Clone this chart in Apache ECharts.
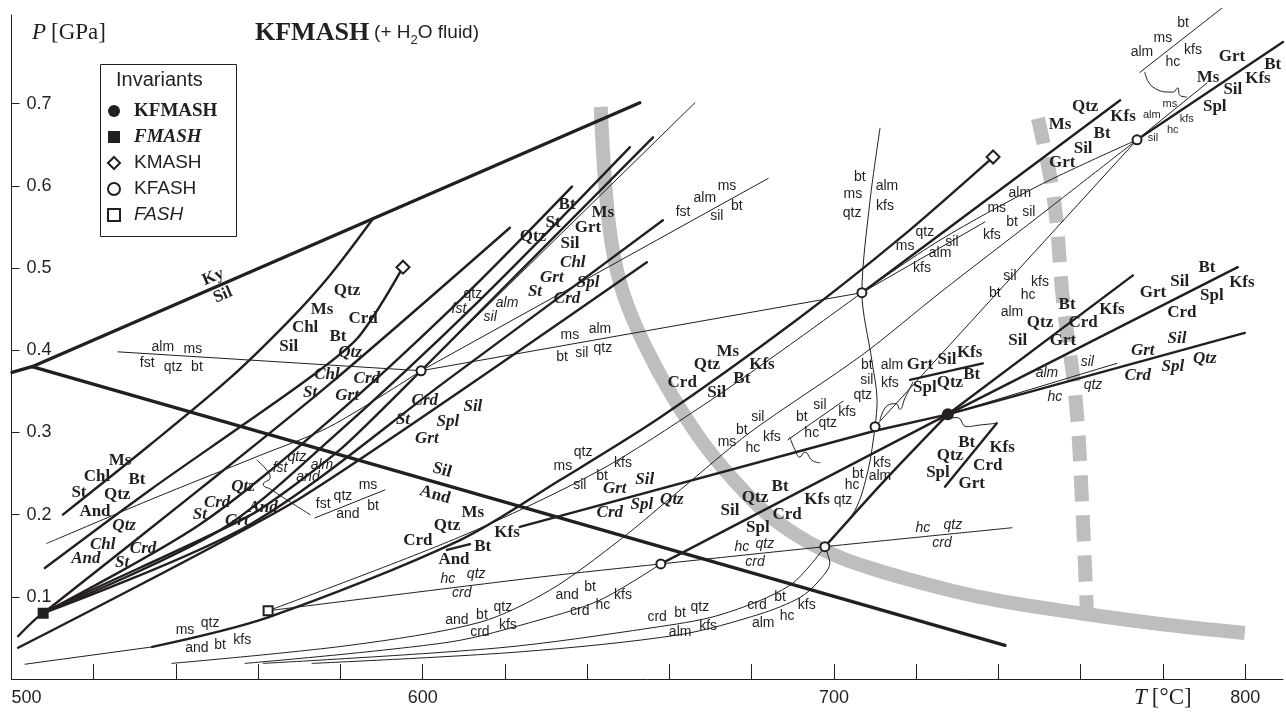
<!DOCTYPE html>
<html>
<head>
<meta charset="utf-8">
<script src="https://cdn.jsdelivr.net/npm/echarts@6.0.0/dist/echarts.min.js"></script>
<style>
html,body{margin:0;padding:0;background:#fff}
#chart{width:1286px;height:715px}
</style>
</head>
<body>
<div id="chart"></div>
<script>
// KFMASH petrogenetic grid: temperature T [°C] against pressure P [GPa]
const INK = '#231f20';
const GREY = '#bcbec0';
const SERIF = '"Liberation Serif", "Times New Roman", serif';
const SANS = '"Liberation Sans", Arial, Helvetica, sans-serif';

// axis ticks and labels
const tTicks = [520, 540, 560, 580, 600, 620, 640, 660, 680, 700, 720, 740, 760, 780, 800];
const tLabels = [500, 600, 700, 800];
const pTicks = [0.1, 0.2, 0.3, 0.4, 0.5, 0.6, 0.7];

// Al2SiO5 polymorph boundaries
const kyAnd = [[500.1, 0.373], [505.0, 0.380]];
const kySil = [[505.0, 0.380], [652.8, 0.701]];
const andSil = [[505.0, 0.380], [741.6, 0.041]];

// heavy reaction curves [T, P]
const msChlSt = [[512.5, 0.200], [533.7, 0.285], [553.1, 0.366], [567.7, 0.437], [577.4, 0.491], [587.9, 0.560]];
const kmashLeft = [[508.1, 0.135], [533.7, 0.230], [558.0, 0.315], [575.0, 0.376], [584.7, 0.418], [595.2, 0.501]];
const fmashA = [[507.7, 0.080], [545.8, 0.231], [577.4, 0.359], [621.2, 0.549]];
const fmashB = [[507.7, 0.080], [545.8, 0.188], [577.4, 0.315], [609.1, 0.461], [636.3, 0.599]];
const fmashC = [[507.7, 0.080], [550.7, 0.181], [577.4, 0.291], [613.9, 0.461], [650.4, 0.647]];
const stQtzBt = [[501.6, 0.052], [507.7, 0.080], [558.0, 0.199], [579.9, 0.279], [599.6, 0.375], [656.0, 0.659]];
const fmashD = [[507.7, 0.080], [558.0, 0.188], [606.6, 0.366], [658.4, 0.558]];
const fmashE = [[501.6, 0.038], [570.2, 0.220], [654.5, 0.507]];
const msQtzCrd = [[534.2, 0.039], [562.4, 0.075], [609.1, 0.169], [633.4, 0.242], [657.7, 0.318], [691.0, 0.437], [716.0, 0.536], [738.7, 0.635]];
const msQtzKfs = [[706.8, 0.470], [769.6, 0.704]];
const grtMsBt = [[773.7, 0.656], [809.2, 0.775]];
const grtSilCrdSpl = [[623.6, 0.185], [710.0, 0.302], [727.7, 0.322]];
const grtSilQtz = [[727.7, 0.322], [799.9, 0.421]];
const grtSilBt = [[727.7, 0.322], [798.2, 0.501]];
const qtzSilBt = [[727.7, 0.322], [772.7, 0.491]];
const grtSilKfsStub = [[718.5, 0.364], [736.2, 0.384]];
const btQtzSplStub = [[727.0, 0.234], [739.6, 0.311]];
const silQtzBt = [[657.9, 0.140], [727.7, 0.322]];
const kfsCrdSpl = [[697.8, 0.161], [712.4, 0.242], [727.7, 0.322]];
const btAndStub = [[605.9, 0.157], [611.5, 0.164]];

// thin reaction curves [T, P]
const msQtzCrdTail = [[503.3, 0.018], [534.2, 0.039]];
const fstQtzBt = [[525.9, 0.398], [599.6, 0.375]];
const msAlmSil = [[599.6, 0.375], [706.8, 0.470]];
const fstAlmMs = [[599.6, 0.375], [684.0, 0.609]];
const fstQtzAlm = [[599.6, 0.375], [666.2, 0.701]];
const fstQtzAnd = [[508.6, 0.165], [533.7, 0.218], [560.4, 0.272], [577.4, 0.307], [599.6, 0.375]];
const fstQtzMs = [[573.8, 0.196], [590.8, 0.230]];
const hcQtzCrd = [[562.4, 0.083], [628.5, 0.124], [657.9, 0.140], [697.8, 0.161], [743.3, 0.184]];
const msQtzSil = [[562.4, 0.083], [609.1, 0.173], [643.1, 0.254], [668.2, 0.333], [686.9, 0.398], [706.8, 0.470]];
const andBtQtz = [[539.0, 0.019], [582.3, 0.041], [613.9, 0.069], [630.9, 0.108], [647.9, 0.169], [662.6, 0.230], [679.6, 0.300], [706.8, 0.394], [725.8, 0.470], [750.1, 0.564], [773.7, 0.656]];
const andBtHc = [[556.8, 0.019], [606.6, 0.045], [628.5, 0.072], [643.1, 0.096], [657.9, 0.140]];
const crdBtQtz = [[561.2, 0.019], [618.8, 0.038], [655.3, 0.062], [672.3, 0.078], [689.3, 0.114], [697.8, 0.161]];
const crdBtHc = [[573.1, 0.019], [623.6, 0.033], [662.6, 0.054], [682.0, 0.079], [691.7, 0.099], [696.1, 0.118], [699.0, 0.141], [697.8, 0.161]];
const btAlmKfs = [[711.2, 0.670], [708.8, 0.583], [706.8, 0.470], [709.2, 0.388], [710.5, 0.339], [710.0, 0.307], [708.3, 0.254], [705.1, 0.205], [697.8, 0.161]];
const almMsSil = [[706.8, 0.470], [725.8, 0.534], [750.1, 0.601], [773.7, 0.656]];
const silBtHc = [[773.7, 0.656], [710.0, 0.307]];
const almMsHc = [[773.7, 0.656], [790.7, 0.725]];
const almMsBt = [[774.4, 0.738], [794.3, 0.816]];
const qtzMsAlm = [[706.8, 0.470], [736.7, 0.556]];
const btSilKfs = [[688.8, 0.291], [702.2, 0.338]];
const silAlmHc = [[727.7, 0.322], [768.8, 0.384]];

// leader curves tying labels to their reactions
const leaderFst = [[559.7, 0.266], [562.1, 0.254], [562.9, 0.245], [561.2, 0.237], [563.3, 0.230], [566.0, 0.221], [572.6, 0.200]];
const leaderHc = [[689.3, 0.294], [690.5, 0.279], [691.7, 0.270], [692.9, 0.276], [694.7, 0.266], [696.6, 0.263]];
const leaderSpl = [[725.8, 0.315], [729.9, 0.318], [732.3, 0.307], [735.5, 0.309], [739.6, 0.311]];
const leaderAlm = [[775.6, 0.738], [777.6, 0.720], [782.4, 0.714], [783.6, 0.719], [784.1, 0.710], [785.8, 0.708]];
const leaderKfs = [[711.2, 0.315], [713.1, 0.333], [715.1, 0.335], [716.0, 0.328], [717.3, 0.342], [719.2, 0.361]];

// broad grey curves
const solidus = [[643.3, 0.696], [644.3, 0.607], [646.0, 0.528], [648.9, 0.467], [654.0, 0.406], [660.6, 0.345], [669.1, 0.281], [678.4, 0.227], [685.7, 0.193], [696.6, 0.159], [708.8, 0.135], [728.2, 0.108], [740.4, 0.095], [759.8, 0.080], [779.3, 0.067], [799.9, 0.056]];
const dashedBand = [[749.6, 0.682], [753.5, 0.583], [755.7, 0.461], [758.8, 0.339], [760.3, 0.218], [761.5, 0.082]];

// invariant points
const kfmashPts = [[727.7, 0.322]];
const fmashPts = [[507.7, 0.080]];
const kmashPts = [[595.2, 0.501], [738.7, 0.635]];
const kfashPts = [[599.6, 0.375], [706.8, 0.470], [773.7, 0.656], [710.0, 0.307], [657.9, 0.140], [697.8, 0.161]];
const fashPts = [[562.4, 0.083]];

// phase labels [T, P, text, rotation]
const kfmashLabels = [
  [549.0, 0.489, 'Ky', 23], [551.4, 0.467, 'Sil', 23],
  [526.4, 0.266, 'Ms'], [520.8, 0.246, 'Chl'], [530.5, 0.242, 'Bt'], [516.4, 0.227, 'St'], [525.7, 0.224, 'Qtz'], [520.3, 0.204, 'And'],
  [581.6, 0.473, 'Qtz'], [575.5, 0.449, 'Ms'], [585.5, 0.439, 'Crd'], [571.4, 0.428, 'Chl'], [579.4, 0.416, 'Bt'], [567.4, 0.404, 'Sil'],
  [604.7, 0.254, 'Sil', -16], [603.0, 0.224, 'And', -16],
  [612.2, 0.202, 'Ms'], [605.9, 0.187, 'Qtz'], [598.8, 0.168, 'Crd'], [620.5, 0.178, 'Kfs'], [614.6, 0.161, 'Bt'], [607.6, 0.145, 'And'],
  [631.7, 0.555, 'St'], [640.2, 0.549, 'Grt'], [626.8, 0.538, 'Qtz'], [635.8, 0.530, 'Sil'], [635.1, 0.577, 'Bt'], [643.8, 0.567, 'Ms'],
  [674.2, 0.398, 'Ms'], [669.1, 0.382, 'Qtz'], [682.5, 0.382, 'Kfs'], [663.1, 0.361, 'Crd'], [677.6, 0.366, 'Bt'], [671.5, 0.348, 'Sil'],
  [720.9, 0.382, 'Grt'], [727.5, 0.388, 'Sil'], [733.0, 0.397, 'Kfs'], [722.1, 0.355, 'Spl'], [728.2, 0.361, 'Qtz'], [733.5, 0.370, 'Bt'],
  [686.9, 0.234, 'Bt'], [680.8, 0.221, 'Qtz'], [674.7, 0.205, 'Sil'], [695.9, 0.218, 'Kfs'], [688.6, 0.200, 'Crd'], [681.5, 0.184, 'Spl'],
  [761.1, 0.696, 'Qtz'], [755.0, 0.674, 'Ms'], [770.3, 0.684, 'Kfs'], [765.2, 0.664, 'Bt'], [760.6, 0.645, 'Sil'], [755.5, 0.628, 'Grt'],
  [796.8, 0.757, 'Grt'], [806.7, 0.747, 'Bt'], [791.0, 0.732, 'Ms'], [803.1, 0.731, 'Kfs'], [797.0, 0.717, 'Sil'], [792.6, 0.696, 'Spl'],
  [756.7, 0.455, 'Bt'], [767.6, 0.449, 'Kfs'], [750.1, 0.434, 'Qtz'], [760.6, 0.433, 'Crd'], [744.7, 0.412, 'Sil'], [755.7, 0.412, 'Grt'],
  [790.7, 0.500, 'Bt'], [784.1, 0.483, 'Sil'], [799.2, 0.482, 'Kfs'], [777.6, 0.470, 'Grt'], [791.9, 0.466, 'Spl'], [784.6, 0.446, 'Crd'],
  [732.3, 0.288, 'Bt'], [740.9, 0.282, 'Kfs'], [728.2, 0.272, 'Qtz'], [737.4, 0.260, 'Crd'], [725.3, 0.251, 'Spl'], [733.5, 0.238, 'Grt']
];
const fmashLabels = [
  [527.4, 0.187, 'Qtz'], [522.2, 0.164, 'Chl'], [532.0, 0.159, 'Crd'], [518.1, 0.147, 'And'], [526.9, 0.142, 'St'],
  [582.3, 0.397, 'Qtz'], [576.7, 0.370, 'Chl'], [586.4, 0.365, 'Crd'], [572.6, 0.349, 'St'], [581.6, 0.345, 'Grt'],
  [556.3, 0.234, 'Qtz'], [550.0, 0.214, 'Crd'], [561.2, 0.209, 'And'], [545.8, 0.200, 'St'], [554.8, 0.193, 'Grt'],
  [636.5, 0.506, 'Chl'], [631.4, 0.488, 'Grt'], [640.2, 0.482, 'Spl'], [627.3, 0.471, 'St'], [635.1, 0.463, 'Crd'],
  [600.5, 0.339, 'Crd'], [612.2, 0.331, 'Sil'], [595.2, 0.316, 'St'], [606.1, 0.313, 'Spl'], [601.0, 0.293, 'Grt'],
  [646.7, 0.232, 'Grt'], [654.0, 0.242, 'Sil'], [645.5, 0.202, 'Crd'], [653.3, 0.212, 'Spl'], [660.6, 0.218, 'Qtz'],
  [775.1, 0.400, 'Grt'], [783.4, 0.414, 'Sil'], [790.2, 0.390, 'Qtz'], [773.9, 0.369, 'Crd'], [782.4, 0.380, 'Spl']
];
const kfashLabels = [
  [536.8, 0.404, 'alm'], [544.1, 0.401, 'ms'], [533.0, 0.384, 'fst'], [539.3, 0.380, 'qtz'], [545.1, 0.380, 'bt'],
  [635.8, 0.418, 'ms'], [643.1, 0.426, 'alm'], [633.9, 0.392, 'bt'], [638.7, 0.397, 'sil'], [643.8, 0.403, 'qtz'],
  [586.7, 0.236, 'ms'], [580.6, 0.223, 'qtz'], [575.8, 0.213, 'fst'], [581.8, 0.200, 'and'], [587.9, 0.210, 'bt'],
  [612.2, 0.468, 'qtz'],
  [634.1, 0.259, 'ms'], [639.0, 0.276, 'qtz'], [648.7, 0.263, 'kfs'], [643.6, 0.247, 'bt'], [638.2, 0.236, 'sil'],
  [663.3, 0.568, 'fst'], [668.6, 0.585, 'alm'], [674.0, 0.599, 'ms'], [671.5, 0.563, 'sil'], [676.4, 0.575, 'bt'],
  [706.3, 0.611, 'bt'], [704.6, 0.590, 'ms'], [704.4, 0.567, 'qtz'], [712.9, 0.599, 'alm'], [712.4, 0.575, 'kfs'],
  [722.1, 0.544, 'qtz'], [717.3, 0.527, 'ms'], [728.7, 0.532, 'sil'], [725.8, 0.518, 'alm'], [721.4, 0.500, 'kfs'],
  [708.0, 0.382, 'bt'], [714.1, 0.382, 'alm'], [708.0, 0.364, 'sil'], [713.6, 0.360, 'kfs'], [707.0, 0.345, 'qtz'],
  [784.9, 0.798, 'bt'], [780.0, 0.780, 'ms'], [774.9, 0.763, 'alm'], [787.3, 0.765, 'kfs'], [782.4, 0.751, 'hc'],
  [745.2, 0.591, 'alm'], [739.6, 0.573, 'ms'], [747.4, 0.568, 'sil'], [743.3, 0.556, 'bt'], [738.4, 0.540, 'kfs'],
  [742.8, 0.490, 'sil'], [750.1, 0.483, 'kfs'], [739.1, 0.470, 'bt'], [747.2, 0.467, 'hc'], [743.3, 0.446, 'alm'],
  [681.5, 0.318, 'sil'], [677.6, 0.303, 'bt'], [674.0, 0.288, 'ms'], [684.9, 0.294, 'kfs'], [680.3, 0.281, 'hc'],
  [696.6, 0.333, 'sil'], [692.2, 0.319, 'bt'], [703.2, 0.325, 'kfs'], [698.5, 0.311, 'qtz'], [694.6, 0.299, 'hc'],
  [711.7, 0.263, 'kfs'], [705.8, 0.249, 'bt'], [711.2, 0.247, 'alm'], [704.4, 0.236, 'hc'], [702.2, 0.218, 'qtz'],
  [542.2, 0.060, 'ms'], [548.3, 0.068, 'qtz'], [545.1, 0.038, 'and'], [550.7, 0.041, 'bt'], [556.1, 0.047, 'kfs'],
  [608.3, 0.072, 'and'], [614.4, 0.078, 'bt'], [619.5, 0.088, 'qtz'], [613.9, 0.057, 'crd'], [620.7, 0.066, 'kfs'],
  [635.1, 0.102, 'and'], [640.7, 0.112, 'bt'], [638.2, 0.083, 'crd'], [643.8, 0.090, 'hc'], [648.7, 0.102, 'kfs'],
  [657.0, 0.075, 'crd'], [662.6, 0.080, 'bt'], [667.4, 0.088, 'qtz'], [662.6, 0.057, 'alm'], [669.4, 0.064, 'kfs'],
  [681.3, 0.090, 'crd'], [686.9, 0.100, 'bt'], [693.4, 0.090, 'kfs'], [682.8, 0.068, 'alm'], [688.6, 0.077, 'hc']
];
const kfashSmallLabels = [
  [781.7, 0.700, 'ms'], [777.3, 0.686, 'alm'], [785.8, 0.681, 'kfs'], [782.4, 0.668, 'hc'], [777.6, 0.658, 'sil']
];
const fashLabels = [
  [608.8, 0.450, 'fst'], [620.5, 0.457, 'alm'], [616.4, 0.440, 'sil'],
  [569.4, 0.270, 'qtz'], [565.3, 0.257, 'fst'], [575.5, 0.260, 'alm'], [572.1, 0.246, 'and'],
  [606.1, 0.122, 'hc'], [613.0, 0.128, 'qtz'], [609.5, 0.105, 'crd'],
  [677.6, 0.161, 'hc'], [683.2, 0.164, 'qtz'], [680.8, 0.142, 'crd'],
  [721.6, 0.184, 'hc'], [728.9, 0.187, 'qtz'], [726.3, 0.165, 'crd'],
  [761.6, 0.386, 'sil'], [751.8, 0.372, 'alm'], [763.0, 0.358, 'qtz'], [753.7, 0.343, 'hc']
];

// ---- series construction ----
function curve(data, width, smooth, z) {
  return {
    type: 'line', data: data, symbol: 'none', showSymbol: false,
    smooth: smooth, clip: false, silent: true, z: z,
    lineStyle: { color: INK, width: width, cap: 'round', join: 'round' }
  };
}

const boundaryCurves = [kyAnd, kySil, andSil];
const heavyCurves = [
  [msChlSt, 0.3], [kmashLeft, 0.3], [fmashA, 0.3], [fmashB, 0.3], [fmashC, 0.3], [stQtzBt, 0.2],
  [fmashD, 0.3], [fmashE, 0.2], [msQtzCrd, 0.3], [msQtzKfs, false], [grtMsBt, false],
  [grtSilCrdSpl, false], [grtSilQtz, false], [grtSilBt, false], [qtzSilBt, false],
  [grtSilKfsStub, false], [btQtzSplStub, false], [silQtzBt, false], [kfsCrdSpl, 0.3], [btAndStub, false]
];
const thinCurves = [
  [msQtzCrdTail, false], [fstQtzBt, false], [msAlmSil, false], [fstAlmMs, false], [fstQtzAlm, false],
  [fstQtzAnd, 0.3], [fstQtzMs, false], [hcQtzCrd, 0.3], [msQtzSil, 0.3], [andBtQtz, 0.3], [andBtHc, 0.3],
  [crdBtQtz, 0.3], [crdBtHc, 0.3], [btAlmKfs, 0.3], [almMsSil, 0.3], [silBtHc, false], [almMsHc, false],
  [almMsBt, false], [qtzMsAlm, false], [btSilKfs, false], [silAlmHc, false],
  [leaderFst, 0.5], [leaderHc, 0.5], [leaderSpl, 0.5], [leaderAlm, 0.5], [leaderKfs, 0.5]
];

function labelSeries(rows, font) {
  return {
    type: 'scatter', silent: true, z: 6, symbolSize: 1,
    itemStyle: { color: 'rgba(0,0,0,0)', opacity: 1 },
    data: rows.map(r => ({ value: [r[0], r[1], r[2]], label: r[3] ? { rotate: r[3] } : undefined })),
    label: Object.assign({
      show: true, position: 'inside', color: INK, opacity: 1,
      formatter: p => p.value[2]
    }, font)
  };
}

const series = [];
series.push({
  type: 'line', data: solidus, symbol: 'none', smooth: 0.4, silent: true, z: 1,
  lineStyle: { color: GREY, width: 14, cap: 'butt' }
});
series.push({
  type: 'line', data: dashedBand, symbol: 'none', smooth: 0.4, silent: true, z: 1,
  lineStyle: { color: GREY, width: 14, type: [26, 14], cap: 'butt' }
});
boundaryCurves.forEach(d => series.push(curve(d, 3.3, false, 4)));
heavyCurves.forEach(d => series.push(curve(d[0], 2.4, d[1], 3)));
thinCurves.forEach(d => series.push(curve(d[0], 1, d[1], 2)));

series.push(labelSeries(kfmashLabels, { fontFamily: SERIF, fontWeight: 'bold', fontSize: 17 }));
series.push(labelSeries(fmashLabels, { fontFamily: SERIF, fontWeight: 'bold', fontStyle: 'italic', fontSize: 17 }));
series.push(labelSeries(kfashLabels, { fontFamily: SANS, fontSize: 14 }));
series.push(labelSeries(kfashSmallLabels, { fontFamily: SANS, fontSize: 11 }));
series.push(labelSeries(fashLabels, { fontFamily: SANS, fontStyle: 'italic', fontSize: 14 }));

const pointStyle = { color: INK, opacity: 1 };
series.push({ name: 'KFMASH', type: 'scatter', data: kfmashPts, symbol: 'circle', symbolSize: 12, z: 8, silent: true, itemStyle: pointStyle });
series.push({ name: 'FMASH', type: 'scatter', data: fmashPts, symbol: 'rect', symbolSize: 11, z: 8, silent: true, itemStyle: pointStyle });
series.push({ name: 'KMASH', type: 'scatter', data: kmashPts, symbol: 'emptyDiamond', symbolSize: 13, z: 8, silent: true, itemStyle: pointStyle });
series.push({ name: 'KFASH', type: 'scatter', data: kfashPts, symbol: 'emptyCircle', symbolSize: 9, z: 8, silent: true, itemStyle: pointStyle });
series.push({ name: 'FASH', type: 'scatter', data: fashPts, symbol: 'emptyRect', symbolSize: 9, z: 8, silent: true, itemStyle: pointStyle });

const legendKey = { KFMASH: 'a', FMASH: 'b', KMASH: 'c', KFASH: 'd', FASH: 'e' };
const plain = { fontWeight: 'normal', color: INK, lineHeight: 28 };

const chart = echarts.init(document.getElementById('chart'), null, { renderer: 'canvas' });
chart.setOption({
  animation: false,
  backgroundColor: '#fff',
  grid: { left: 11.5, right: 3, top: 15, bottom: 36, containLabel: false },
  title: [
    {
      text: '{i|P} {n|[GPa]}', left: 32, top: 19, padding: 0,
      textStyle: { fontWeight: 'normal', rich: {
        i: Object.assign({ fontFamily: SERIF, fontStyle: 'italic', fontSize: 23 }, plain),
        n: Object.assign({ fontFamily: SERIF, fontSize: 23 }, plain)
      } }
    },
    {
      text: '{b|KFMASH} {s|(+ H}{u|2}{s|O fluid)}', left: 255, top: 19, padding: 0,
      textStyle: { fontWeight: 'normal', rich: {
        b: { fontFamily: SERIF, fontWeight: 'bold', fontSize: 26, color: INK, lineHeight: 28 },
        s: Object.assign({ fontFamily: SANS, fontSize: 19 }, plain),
        u: Object.assign({ fontFamily: SANS, fontSize: 13, verticalAlign: 'bottom' }, plain)
      } }
    },
    {
      text: '{i|T} {n|[°C]}', left: 1134, top: 684, padding: 0,
      textStyle: { fontWeight: 'normal', rich: {
        i: Object.assign({ fontFamily: SERIF, fontStyle: 'italic', fontSize: 23 }, plain),
        n: Object.assign({ fontFamily: SERIF, fontSize: 23 }, plain)
      } }
    }
  ],
  graphic: [
    { type: 'rect', left: 100, top: 64, z: 50, shape: { width: 136, height: 172 },
      style: { fill: '#fff', stroke: INK, lineWidth: 1 } },
    { type: 'text', left: 116, top: 70, z: 51,
      style: { text: 'Invariants', fontFamily: SANS, fontSize: 20, fill: INK } }
  ],
  legend: {
    data: ['KFMASH', 'FMASH', 'KMASH', 'KFASH', 'FASH'],
    orient: 'vertical', left: 107, top: 101, padding: 0, itemGap: 6,
    itemWidth: 12, itemHeight: 12, selectedMode: false, z: 60,
    formatter: n => '{' + legendKey[n] + '|' + n + '}',
    textStyle: {
      color: INK, lineHeight: 20,
      rich: {
        a: { fontFamily: SERIF, fontWeight: 'bold', fontSize: 19, color: INK, padding: [0, 0, 0, 9] },
        b: { fontFamily: SERIF, fontWeight: 'bold', fontStyle: 'italic', fontSize: 19, color: INK, padding: [0, 0, 0, 9] },
        c: { fontFamily: SANS, fontSize: 19, color: INK, padding: [0, 0, 0, 9] },
        d: { fontFamily: SANS, fontSize: 19, color: INK, padding: [0, 0, 0, 9] },
        e: { fontFamily: SANS, fontStyle: 'italic', fontSize: 19, color: INK, padding: [0, 0, 0, 9] }
      }
    }
  },
  xAxis: {
    type: 'value', min: 500, max: 809.2,
    axisLine: { show: true, onZero: false, lineStyle: { color: INK, width: 1 } },
    axisTick: { show: true, inside: true, length: 15, customValues: tTicks, lineStyle: { color: INK, width: 1 } },
    axisLabel: { customValues: tLabels, formatter: v => String(v), margin: 10, fontFamily: SANS, fontSize: 18, color: INK, alignMinLabel: 'left' },
    splitLine: { show: false }
  },
  yAxis: {
    type: 'value', min: 0, max: 0.8078,
    axisLine: { show: true, onZero: false, lineStyle: { color: INK, width: 1 } },
    axisTick: { show: true, inside: true, length: 8, customValues: pTicks, lineStyle: { color: INK, width: 1 } },
    axisLabel: { inside: true, margin: 15, customValues: pTicks, formatter: v => v.toFixed(1), fontFamily: SANS, fontSize: 18, color: INK },
    splitLine: { show: false }
  },
  series: series
});
</script>
</body>
</html>
